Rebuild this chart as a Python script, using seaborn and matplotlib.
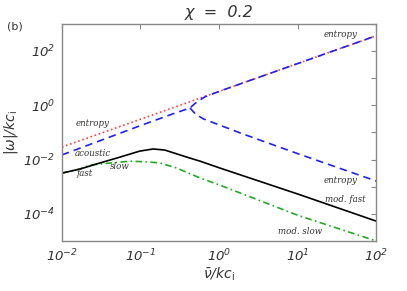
import matplotlib
matplotlib.use("Agg")
import numpy as np
import matplotlib.pyplot as plt
import matplotlib.ticker as mticker
import seaborn as sns

# values (nu / k c_i  vs  |omega| / k c_i)
nu_entropy = [0.01, 100.0]
w_entropy = [0.0288, 363.0]

nu_acoustic = [0.01, 0.0316, 0.1, 0.251, 0.427, 0.501, 0.661, 1.0, 10.0, 100.0]
w_acoustic = [0.0148, 0.0513, 0.178, 0.468, 0.794, 1.2, 2.04, 3.24, 34.3, 363.0]

nu_entropy_low = [0.427, 0.501, 0.631, 1.0, 1.86, 10.0, 100.0]
w_entropy_low = [0.794, 0.479, 0.316, 0.19, 0.0955, 0.0166, 0.00162]

nu_fast = [0.01, 0.017, 0.0302, 0.055, 0.0977, 0.145, 0.204, 0.389, 0.575, 1.02, 10.0, 100.0]
w_fast = [0.00316, 0.00447, 0.00741, 0.0123, 0.0204, 0.0245, 0.0224, 0.0123, 0.0087, 0.0049, 0.00054, 5.4e-5]

nu_slow = [0.01, 0.017, 0.0229, 0.0407, 0.0741, 0.132, 0.178, 0.288, 0.575, 1.02, 10.0, 100.0]
w_slow = [0.00316, 0.00447, 0.0063, 0.0074, 0.0087, 0.0081, 0.0074, 0.0049, 0.00209, 0.00115, 8.9e-5, 1.0e-5]

# mode labels: (text, nu, omega, alignment)
mode_labels = [
    ("entropy", 57.3, 393.0, "right"),
    ("entropy", 0.0151, 0.222, "left"),
    ("acoustic", 0.0146, 0.0174, "left"),
    ("fast", 0.0155, 0.00318, "left"),
    ("slow", 0.0408, 0.00575, "left"),
    ("entropy", 57.3, 0.00175, "right"),
    ("mod. fast", 74.6, 3.48e-4, "right"),
    ("mod. slow", 20.5, 2.3e-5, "right"),
]

sns.set_style("white")
plt.rcParams["font.family"] = ["DejaVu Sans"]
# italic "roman" math font so the tick digits come out slanted
plt.rcParams["mathtext.fontset"] = "custom"
plt.rcParams["mathtext.rm"] = "DejaVu Sans:italic"
plt.rcParams["mathtext.it"] = "DejaVu Sans:italic"
plt.rcParams["mathtext.sf"] = "DejaVu Sans"

fig, ax = plt.subplots(figsize=(4.07, 2.91), dpi=100)
fig.subplots_adjust(left=0.152, right=0.924, bottom=0.172, top=0.918)

sns.lineplot(x=nu_entropy, y=w_entropy, ax=ax, color="#ff4040", lw=1.2,
             linestyle=(0, (1, 1.6)))
sns.lineplot(x=nu_acoustic, y=w_acoustic, ax=ax, color="#2020ff", lw=1.2,
             linestyle=(0, (4.5, 3)))
sns.lineplot(x=nu_entropy_low, y=w_entropy_low, ax=ax, color="#2020ff", lw=1.2,
             linestyle=(0, (4.5, 3)))
sns.lineplot(x=nu_slow, y=w_slow, ax=ax, color="#22aa22", lw=1.2,
             linestyle=(0, (4, 2, 1, 2)))
sns.lineplot(x=nu_fast, y=w_fast, ax=ax, color="black", lw=1.2)

ax.set_xscale("log")
ax.set_yscale("log")
ax.set_xlim(1e-2, 1e2)
ax.set_ylim(1e-5, 1e3)


def pow_fmt(v, pos):
    return r"$\mathrm{10^{%d}}$" % int(round(np.log10(v)))


ax.xaxis.set_major_locator(mticker.FixedLocator([1e-2, 1e-1, 1e0, 1e1, 1e2]))
ax.xaxis.set_minor_locator(mticker.NullLocator())
ax.xaxis.set_major_formatter(mticker.FuncFormatter(pow_fmt))
ax.yaxis.set_major_locator(mticker.FixedLocator([1e-4, 1e-2, 1e0, 1e2]))
ax.yaxis.set_minor_locator(mticker.FixedLocator([1e-5, 1e-3, 1e-1, 1e1, 1e3]))
ax.yaxis.set_major_formatter(mticker.FuncFormatter(pow_fmt))
ax.yaxis.set_minor_formatter(mticker.NullFormatter())

for spine in ax.spines.values():
    spine.set_color("#888888")
    spine.set_linewidth(1.0)
ax.tick_params(which="both", direction="in", length=3.5, width=0.8,
               color="#888888", top=True, right=True, labelsize=9.5,
               labelcolor="#333333", pad=5)

ax.set_title("χ  =  0.2", fontsize=11.5, style="italic", color="#333333", pad=5)
fig.text(0.017, 0.91, "(b)", fontsize=8, color="#333333", va="center")
ax.set_xlabel(r"$\bar{\nu}/kc_{\mathsf{i}}$", fontsize=10, color="#333333", labelpad=1)
ax.set_ylabel(r"$|\omega|/kc_{\mathsf{i}}$", fontsize=10, color="#333333", labelpad=2)

for text, x, y, ha in mode_labels:
    ax.text(x, y, text, ha=ha, va="center", fontsize=6.2, style="italic",
            family="DejaVu Serif", color="#333333")

fig.savefig("out.png", dpi=100)
